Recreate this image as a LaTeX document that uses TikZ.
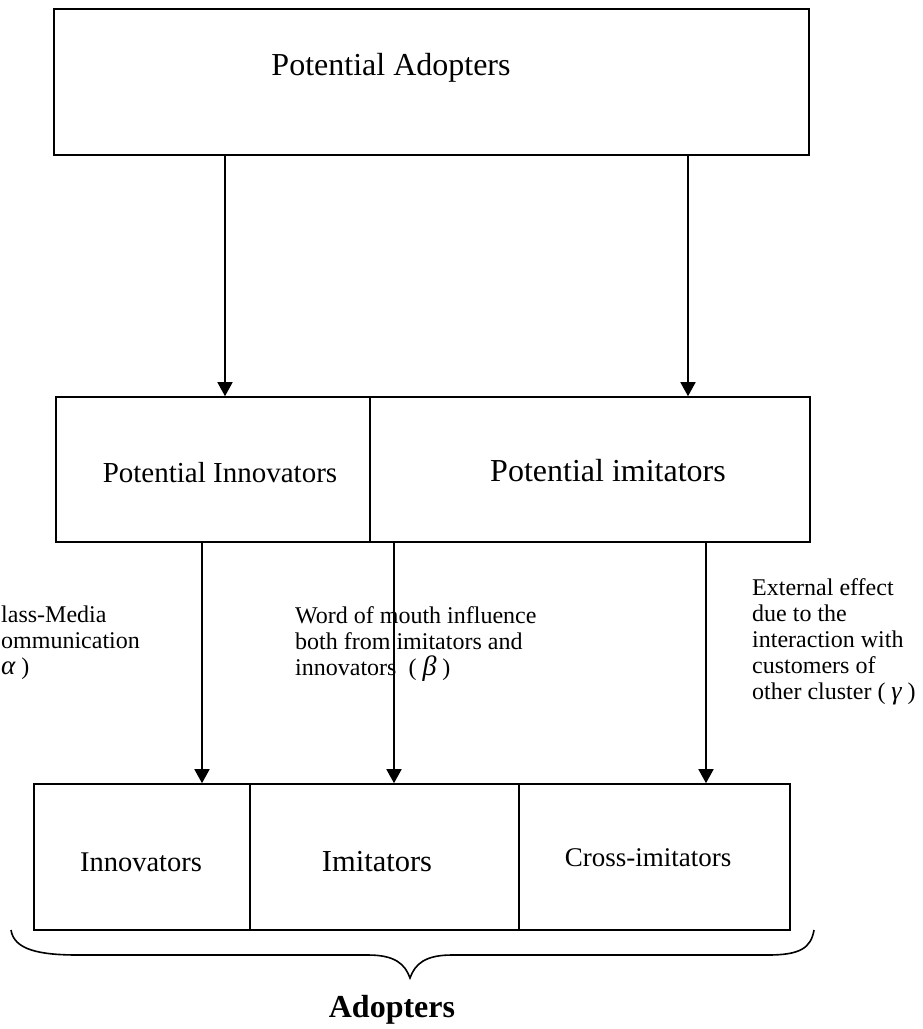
\documentclass[tikz,border=0pt]{standalone}
\usepackage{fontspec}
\setmainfont{Liberation Serif}
\usetikzlibrary{arrows.meta}
\tikzset{
  box/.style={draw=black, line width=1.6pt, inner sep=0pt, fill=none},
  arr/.style={draw=black, line width=1.6pt, -{Triangle[length=14pt,width=15pt]}},
  boxtxt/.style={inner sep=0pt, anchor=base, text=black},
  note/.style={inner sep=0pt, anchor=north west, align=left, text=black,
               font=\fontsize{24}{26}\selectfont},
  bracepath/.style={draw=black, line width=1.6pt}
}
\newcommand{\grk}[2]{{\fontsize{#1}{#1}\selectfont\itshape #2}}
\begin{document}
\begin{tikzpicture}[x=1pt,y=-1pt]
\useasboundingbox (0,0) rectangle (923,1029);
\fill[white] (0,0) rectangle (923,1029);

% top box
\node[box, minimum width=755pt, minimum height=146pt] (pad) at (431.5,82) {};
\node[boxtxt, font=\fontsize{32}{36}\selectfont] (tpad) at (391,75) {Potential Adopters};

% middle boxes
\node[box, minimum width=314pt, minimum height=145pt] (pinn) at (213,469.5) {};
\node[box, minimum width=440pt, minimum height=145pt] (pimi) at (590,469.5) {};
\node[boxtxt, font=\fontsize{29}{33}\selectfont] (tpinn) at (220,482) {Potential Innovators};
\node[boxtxt, font=\fontsize{32}{36}\selectfont] (tpimi) at (608,481) {Potential imitators};

% bottom boxes
\node[box, minimum width=216pt, minimum height=146pt] (inn) at (142,857) {};
\node[box, minimum width=269pt, minimum height=146pt] (imi) at (384.5,857) {};
\node[box, minimum width=271pt, minimum height=146pt] (cro) at (654.5,857) {};
\node[boxtxt, font=\fontsize{28.5}{32}\selectfont] (tinn) at (141,871) {Innovators};
\node[boxtxt, font=\fontsize{30.5}{34}\selectfont] (timi) at (377,871) {Imitators};
\node[boxtxt, font=\fontsize{27}{31}\selectfont] (tcro) at (648,866) {Cross-imitators};

% influence labels
\node[note] (alpha) at (1,606) {lass-Media\\ommunication\\\grk{27}{α} )};
\node[note] (beta) at (295,606) {Word of mouth influence\\both from imitators and\\innovators\ \ ( \grk{28}{β} )};
\node[note] (gamma) at (752,578) {External effect\\due to the\\interaction with\\customers of\\other cluster ( \grk{26}{γ} )};

% arrows
\draw[arr] (pad.south -| 225,0) -- (pinn.north -| 225,0);
\draw[arr] (pad.south -| 688,0) -- (pimi.north -| 688,0);
\draw[arr] (pinn.south -| 202,0) -- (inn.north -| 202,0);
\draw[arr] (pinn.south -| 394,0) -- (imi.north -| 394,0);
\draw[arr] (pimi.south -| 706,0) -- (cro.north -| 706,0);

% brace
\coordinate (bl) at (11,930);
\coordinate (tip) at (410,978);
\coordinate (br) at (814,930);
\draw[bracepath] (bl) .. controls (14,950) and (40,955) .. (78,955)
  -- (368,955) .. controls (395,955) and (405,964) .. (tip)
  .. controls (415,964) and (425,955) .. (452,955)
  -- (768,955) .. controls (800,955) and (811,948) .. (br);
\node[boxtxt, font=\bfseries\fontsize{32}{36}\selectfont] (adopt) at (392,1017) {Adopters};
\end{tikzpicture}
\end{document}
